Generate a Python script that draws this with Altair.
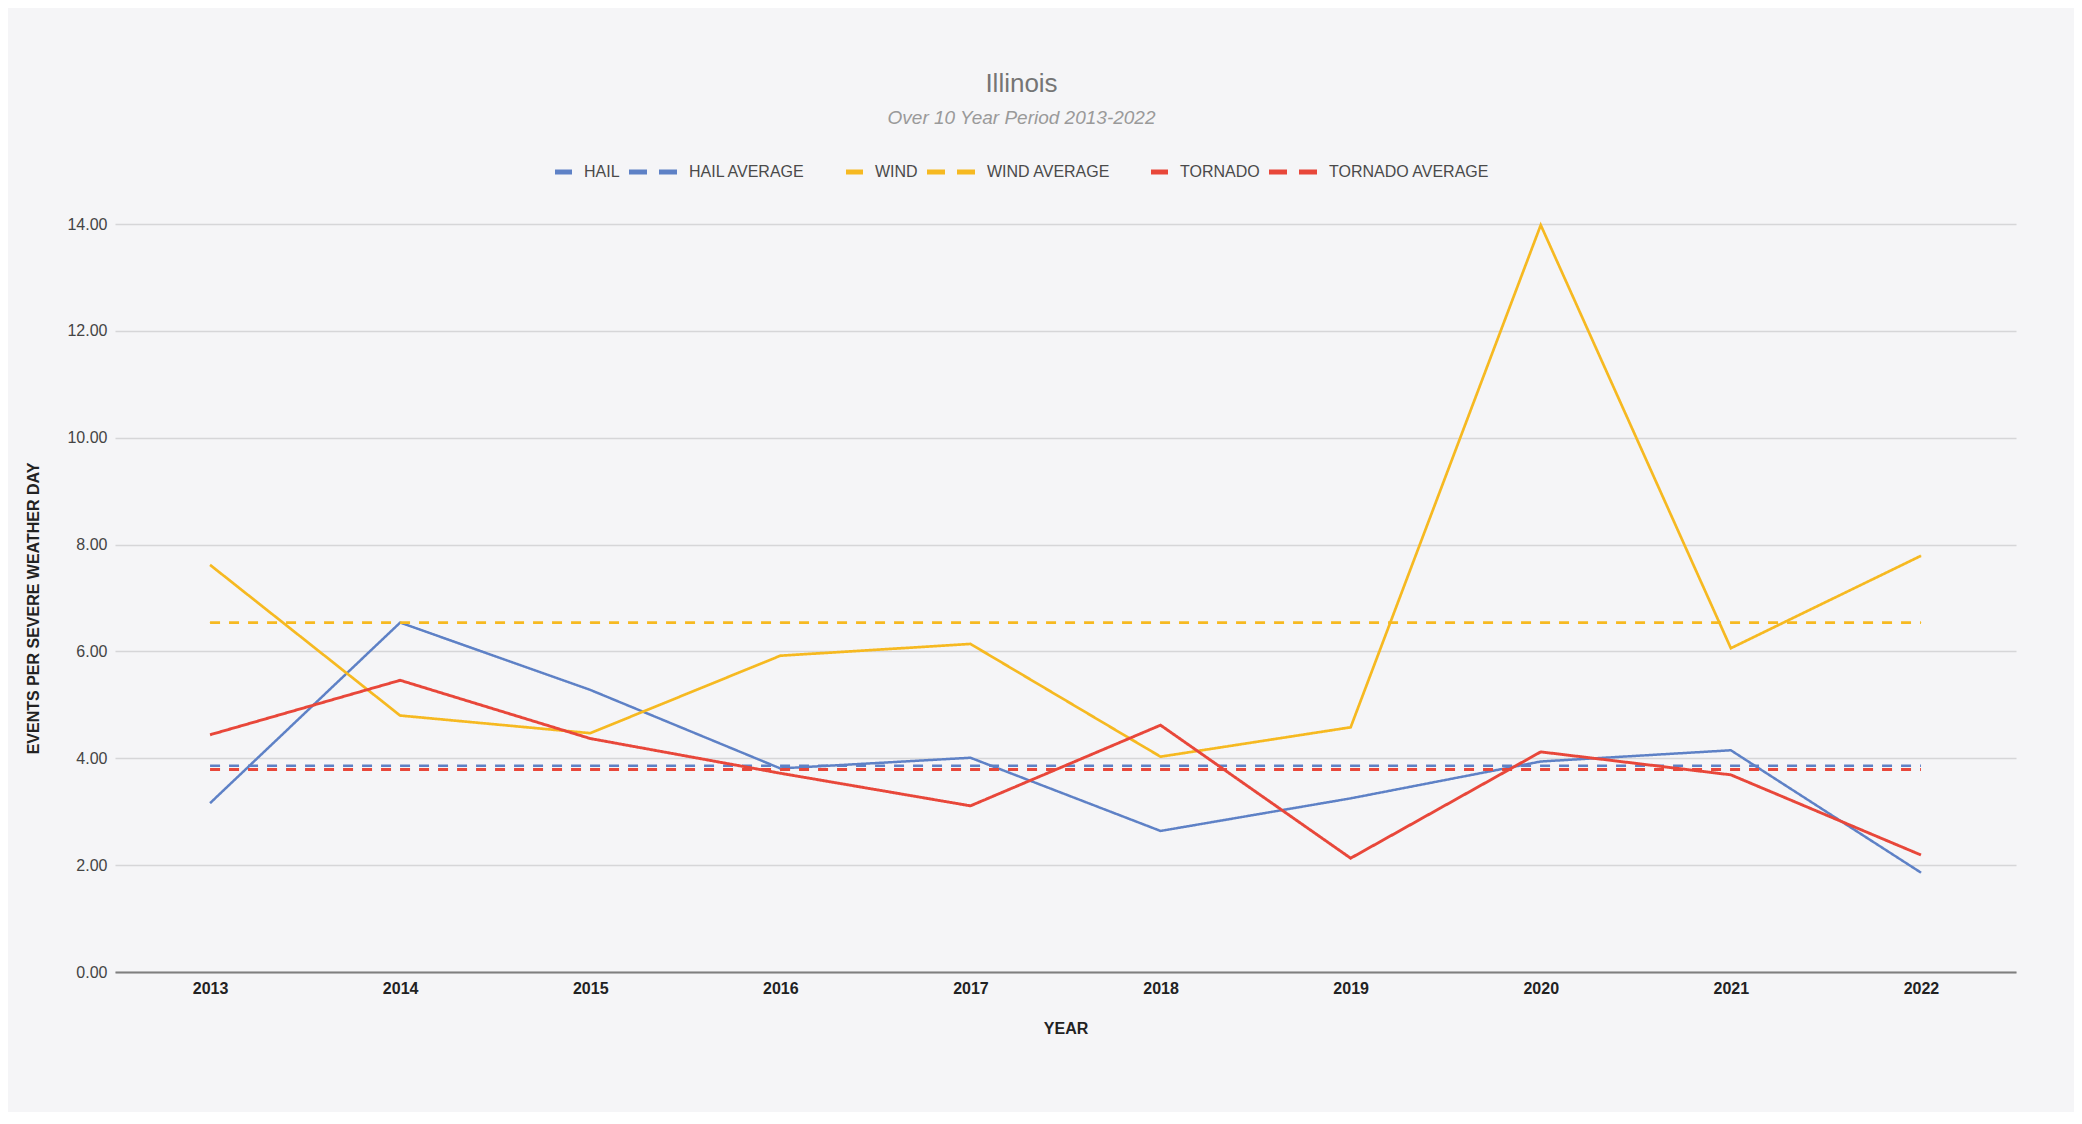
import altair as alt
import pandas as pd

years = ["2013", "2014", "2015", "2016", "2017", "2018", "2019", "2020", "2021", "2022"]
hail = [3.16, 6.54, 5.28, 3.81, 4.01, 2.64, 3.25, 3.94, 4.15, 1.86]
wind = [7.62, 4.80, 4.47, 5.92, 6.14, 4.03, 4.58, 13.98, 6.06, 7.79]
tornado = [4.44, 5.46, 4.37, 3.72, 3.11, 4.62, 2.13, 4.12, 3.69, 2.19]
hail_avg = 3.86
wind_avg = 6.54
tornado_avg = 3.79

series_names = ["HAIL", "HAIL AVERAGE", "WIND", "WIND AVERAGE", "TORNADO", "TORNADO AVERAGE"]
series_colors = ["#5e81c6", "#5e81c6", "#f6b921", "#f6b921", "#e8473a", "#e8473a"]
series_dash = [[1, 0], [10, 9], [1, 0], [10, 9], [1, 0], [10, 9]]
series_widths = [2.5, 3, 2.5, 3, 2.5, 3]

# legend swatches: a short solid bar, or two dashes
SOLID = "M0.292,-0.104H1V0.104H0.292Z"
DASHED = "M-1,-0.104H-0.25V0.104H-1Z M0.25,-0.104H1V0.104H0.25Z"
series_shapes = [SOLID, DASHED, SOLID, DASHED, SOLID, DASHED]

rows = []
for name, vals in [
    ("HAIL", hail),
    ("HAIL AVERAGE", [hail_avg] * len(years)),
    ("WIND", wind),
    ("WIND AVERAGE", [wind_avg] * len(years)),
    ("TORNADO", tornado),
    ("TORNADO AVERAGE", [tornado_avg] * len(years)),
]:
    for y, v in zip(years, vals):
        rows.append({"year": y, "value": v, "series": name})
df = pd.DataFrame(rows)

FONT = "Liberation Sans"

x_enc = alt.X(
    "year:O",
    sort=years,
    axis=alt.Axis(
        title="YEAR",
        labelAngle=0,
        labelFont=FONT,
        labelFontSize=16,
        labelFontWeight="bold",
        labelColor="#222222",
        labelPadding=8,
        ticks=False,
        domainColor="#7f7f7f",
        domainWidth=2,
        grid=False,
        titleFont=FONT,
        titleFontSize=16,
        titleFontWeight="bold",
        titleColor="#222222",
        titleY=56,
        titleBaseline="middle",
    ),
)
y_enc = alt.Y(
    "value:Q",
    scale=alt.Scale(domain=[0, 14], nice=False),
    axis=alt.Axis(
        title="EVENTS PER SEVERE WEATHER DAY",
        values=[0, 2, 4, 6, 8, 10, 12, 14],
        format=".2f",
        labelFont=FONT,
        labelFontSize=16,
        labelColor="#444444",
        labelPadding=8,
        ticks=False,
        domain=False,
        gridColor="#d6d6d8",
        gridWidth=1.3,
        titleFont=FONT,
        titleFontSize=16,
        titleFontWeight="bold",
        titleColor="#222222",
        titleX=-82,
        titleY=384,
        titleAngle=-90,
        titleAlign="center",
        titleBaseline="middle",
    ),
)

legend = alt.Legend(
    title=None,
    orient="none",
    legendX=409,
    legendY=-76,
    direction="horizontal",
    columns=6,
    columnPadding=9,
    symbolSize=2304,
    symbolStrokeWidth=0,
    symbolOpacity=1,
    labelFont=FONT,
    labelFontSize=16,
    labelColor="#4a4a4a",
    labelOffset=12,
    labelLimit=400,
)

lines = (
    alt.Chart(df)
    .mark_line()
    .encode(
        x=x_enc,
        y=y_enc,
        color=alt.Color(
            "series:N",
            scale=alt.Scale(domain=series_names, range=series_colors),
            legend=None,
        ),
        strokeDash=alt.StrokeDash(
            "series:N",
            scale=alt.Scale(domain=series_names, range=series_dash),
            legend=None,
        ),
        strokeWidth=alt.StrokeWidth(
            "series:N",
            scale=alt.Scale(domain=series_names, range=series_widths),
            legend=None,
        ),
        detail="series:N",
    )
)

keys = (
    alt.Chart(df)
    .mark_point(filled=True, size=4, opacity=1)
    .encode(
        x=x_enc,
        y=y_enc,
        color=alt.Color(
            "series:N",
            scale=alt.Scale(domain=series_names, range=series_colors),
            legend=legend,
        ),
        shape=alt.Shape(
            "series:N",
            scale=alt.Scale(domain=series_names, range=series_shapes),
            legend=legend,
        ),
    )
)

chart = (
    alt.layer(lines, keys)
    .resolve_scale(color="independent", shape="independent")
    .resolve_legend(color="independent", shape="independent")
    .properties(
        width=1901,
        height=748,
        autosize="none",
        padding={"left": 107, "top": 216, "right": 58, "bottom": 140},
        background="#f5f5f7",
        title=alt.Title(
            text="Illinois",
            subtitle="Over 10 Year Period 2013-2022",
            font=FONT,
            fontSize=26,
            fontWeight="normal",
            color="#757575",
            subtitleFont=FONT,
            subtitleFontSize=19,
            subtitleFontStyle="italic",
            subtitleColor="#9a9a9a",
            subtitlePadding=12,
            anchor="middle",
            dx=-44,
            offset=20,
        ),
    )
    .configure_view(stroke=None)
)

chart.save("out.html", embed_options={"renderer": "svg", "actions": False})
